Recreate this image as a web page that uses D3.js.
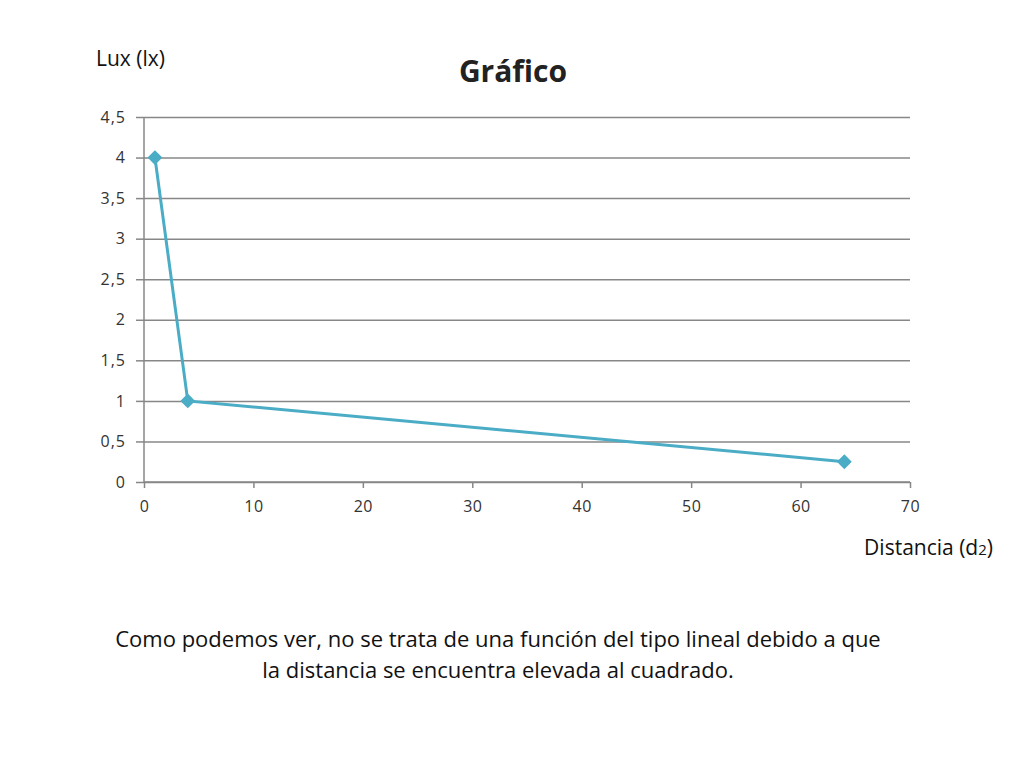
<!DOCTYPE html>
<html>
<head>
<meta charset="utf-8">
<script src="https://cdn.jsdelivr.net/npm/d3@7"></script>
<style>
  body { margin: 0; background: #fff; }
  text { font-family: "Open Sans", "Noto Sans", sans-serif; }
</style>
</head>
<body>
<script>
// data
var distancia = [1, 4, 64];
var lux = [4, 1, 0.25];
var xTicks = [0, 10, 20, 30, 40, 50, 60, 70];
var yTicks = [0, 0.5, 1, 1.5, 2, 2.5, 3, 3.5, 4, 4.5];
var caption = [
  "Como podemos ver, no se trata de una función del tipo lineal debido a que",
  "la distancia se encuentra elevada al cuadrado."
];

var width = 1024, height = 768;
var svg = d3.select("body").append("svg")
    .attr("width", width)
    .attr("height", height);

var x = d3.scaleLinear().domain([0, 70]).range([144, 910]);
var y = d3.scaleLinear().domain([0, 4.5]).range([482, 117]);

var grid = "#878787";

// horizontal gridlines (y axis)
var yAxis = svg.append("g")
    .attr("transform", "translate(144,0)")
    .call(d3.axisLeft(y).tickValues(yTicks).tickSize(8).tickPadding(10)
      .tickFormat(d => String(d).replace(".", ",")));
yAxis.select(".domain").attr("stroke", grid).attr("d", "M0," + y(0) + "V" + y(4.5));
yAxis.selectAll(".tick line").attr("stroke", grid);
yAxis.selectAll(".tick").append("line")
    .attr("x2", 910 - 144)
    .attr("stroke", grid);
yAxis.selectAll(".tick text").attr("fill", "#333").attr("font-size", 16)
    .attr("letter-spacing", 1);

// x axis
var xAxis = svg.append("g")
    .attr("transform", "translate(0," + y(0) + ")")
    .call(d3.axisBottom(x).tickValues(xTicks).tickSize(6).tickPadding(13));
xAxis.select(".domain").attr("stroke", grid).attr("d", "M" + x(0) + ",0H" + x(70));
xAxis.selectAll(".tick line").attr("stroke", grid);
xAxis.selectAll(".tick text").attr("fill", "#333").attr("font-size", 16)
    .attr("letter-spacing", 0.5);
yAxis.attr("font-family", null).selectAll("path, line").attr("stroke-width", 1.5);
xAxis.attr("font-family", null).selectAll("path, line").attr("stroke-width", 1.5);

// series
var pts = distancia.map((d, i) => [d, lux[i]]);
var teal = "#4bacc6";

svg.append("path")
    .attr("d", d3.line().x(d => x(d[0])).y(d => y(d[1]))(pts))
    .attr("fill", "none")
    .attr("stroke", teal)
    .attr("stroke-width", 3);

svg.selectAll(".mark")
  .data(pts)
  .enter().append("path")
    .attr("class", "mark")
    .attr("d", d3.symbol().type(d3.symbolSquare).size(110))
    .attr("transform", d => "translate(" + x(d[0]) + "," + y(d[1]) + ") rotate(45)")
    .attr("fill", teal);

// titles
svg.append("text")
    .attr("x", 513).attr("y", 82)
    .attr("text-anchor", "middle")
    .attr("font-size", 30).attr("font-weight", "bold")
    .attr("fill", "#222")
    .text("Gráfico");

svg.append("text")
    .attr("x", 96).attr("y", 66)
    .attr("font-size", 21)
    .attr("fill", "#111")
    .text("Lux (lx)");

var dl = svg.append("text")
    .attr("x", 993).attr("y", 555)
    .attr("text-anchor", "end")
    .attr("font-size", 21)
    .attr("fill", "#111");
dl.append("tspan").text("Distancia (d");
dl.append("tspan").attr("font-size", 15).text("2");
dl.append("tspan").text(")");

svg.selectAll(".cap")
  .data(caption)
  .enter().append("text")
    .attr("class", "cap")
    .attr("x", 498)
    .attr("y", (d, i) => 647 + i * 31)
    .attr("text-anchor", "middle")
    .attr("font-size", 22)
    .attr("fill", "#111")
    .text(d => d);
</script>
</body>
</html>
